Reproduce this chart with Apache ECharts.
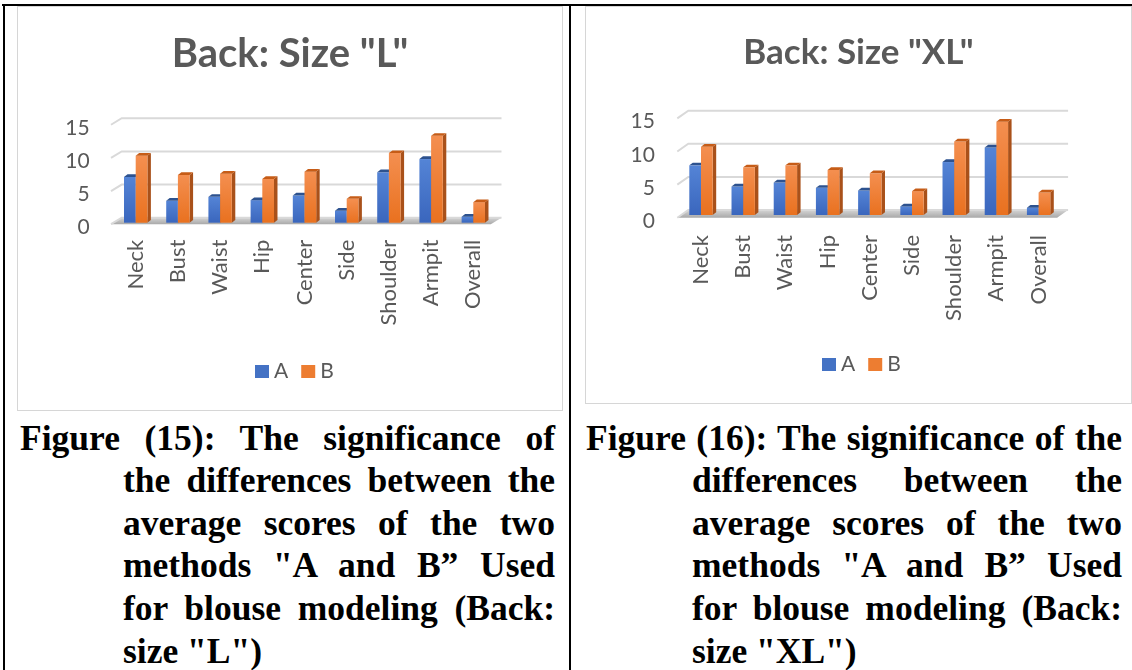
<!DOCTYPE html>
<html>
<head>
<meta charset="utf-8">
<script src="https://cdn.jsdelivr.net/npm/echarts@6/dist/echarts.min.js"></script>
<style>
  html, body { margin: 0; padding: 0; background: #fff; }
  #page { position: relative; width: 1132px; height: 670px; overflow: hidden; background: #fff; }
  .rule { position: absolute; background: #000; }
  .frame { position: absolute; border: 1px solid #d6d6d6; box-sizing: border-box; background: #fff; }
  .chart { position: absolute; }
  .cap { position: absolute; font-family: "Liberation Serif", "Times New Roman", serif; font-weight: bold;
         font-size: 35.5px; line-height: 42.6px; color: #000; }
  .cap div { position: absolute; text-align: justify; text-align-last: justify; }
  .cap div.last { text-align: left; text-align-last: left; }
</style>
</head>
<body>
<div id="page">
  <div class="rule" style="left:2px;top:4px;width:1130px;height:2px;"></div>
  <div class="rule" style="left:3px;top:4px;width:2px;height:666px;"></div>
  <div class="rule" style="left:569px;top:4px;width:2px;height:666px;"></div>

  <div class="frame" style="left:17px;top:6px;width:546px;height:405px;"></div>
  <div class="frame" style="left:585px;top:6px;width:547px;height:398px;"></div>
  <div id="chartL" class="chart" style="left:17px;top:6px;width:546px;height:405px;"></div>
  <div id="chartXL" class="chart" style="left:585px;top:6px;width:547px;height:398px;"></div>

  <div class="cap" style="left:20px;top:416.5px;">
    <div style="left:0;top:0;width:535px;">Figure (15): The significance of</div>
    <div style="left:103px;top:42.6px;width:432px;">the differences between the</div>
    <div style="left:103px;top:85.2px;width:432px;">average scores of the two</div>
    <div style="left:103px;top:127.8px;width:432px;">methods "A and B” Used</div>
    <div style="left:103px;top:170.4px;width:432px;">for blouse modeling (Back:</div>
    <div class="last" style="left:103px;top:213px;width:432px;">size "L")</div>
  </div>
  <div class="cap" style="left:586px;top:416.5px;">
    <div style="left:0;top:0;width:536px;">Figure (16): The significance of the</div>
    <div style="left:106px;top:42.6px;width:430px;">differences between the</div>
    <div style="left:106px;top:85.2px;width:430px;">average scores of the two</div>
    <div style="left:106px;top:127.8px;width:430px;">methods "A and B” Used</div>
    <div style="left:106px;top:170.4px;width:430px;">for blouse modeling (Back:</div>
    <div class="last" style="left:106px;top:213px;width:430px;">size "XL")</div>
  </div>
</div>

<script>
// Measured parts of the back of the blouse
const categories = ['Neck', 'Bust', 'Waist', 'Hip', 'Center', 'Side', 'Shoulder', 'Armpit', 'Overall'];

// Average scores, size "L"
const sizeL_A = [6.9, 3.3, 3.9, 3.4, 4.1, 1.8, 7.6, 9.6, 0.9];
const sizeL_B = [10.1, 7.2, 7.4, 6.6, 7.7, 3.6, 10.5, 13.1, 3.1];

// Average scores, size "XL"
const sizeXL_A = [7.5, 4.3, 4.9, 4.1, 3.7, 1.3, 8.0, 10.2, 1.1];
const sizeXL_B = [10.3, 7.2, 7.5, 6.8, 6.3, 3.6, 11.1, 14.1, 3.4];

// Value axis ticks
const valueTicks = [0, 5, 10, 15];
const methodNames = ['A', 'B'];

const TEXT = '#595959';
const FONT = 'Lato, "Open Sans", sans-serif';

const palettes = {
  A: { top: '#5484d6', bottom: '#3a66bd', cap: '#2d528f', side: '#2a4a85', flat: '#4472C4' },
  B: { top: '#f48f50', bottom: '#e9711f', cap: '#c65c17', side: '#a9511a', flat: '#ED7D31' }
};

// Pseudo-3D column: front face, top face and right side face
function columnRenderer(slot, pal, depth) {
  return function (params, api) {
    const idx = api.value(0);
    const v = api.value(1);
    const base = api.coord([idx, 0]);
    const top = api.coord([idx, v]);
    const band = api.size([1, 0])[0];
    const w = band * 0.277;
    const x0 = slot === 0 ? base[0] - w : base[0];
    const x1 = x0 + w;
    const yb = base[1], yt = top[1];
    const dx = depth.dx, dy = depth.dy;
    return {
      type: 'group',
      children: [
        {
          type: 'polygon',
          shape: { points: [[x1, yt], [x1 + dx, yt + dy], [x1 + dx, yb + dy], [x1, yb]] },
          style: { fill: pal.side }
        },
        {
          type: 'rect',
          shape: { x: x0, y: yt, width: w, height: yb - yt },
          style: {
            fill: new echarts.graphic.LinearGradient(0, 0, 0, 1, [
              { offset: 0, color: pal.top }, { offset: 1, color: pal.bottom }
            ])
          }
        },
        {
          type: 'polygon',
          shape: { points: [[x0, yt], [x1, yt], [x1 + dx, yt + dy], [x0 + dx, yt + dy]] },
          style: { fill: pal.cap }
        }
      ]
    };
  };
}

// Back-wall gridlines with their slanted side-wall part, plus the floor
function wallRenderer(persp) {
  return function (params, api) {
    const v = api.value(1);
    const cs = params.coordSys;
    const y = api.coord([0, v])[1];
    const fx = cs.x + persp.frontX, bx = cs.x + persp.backX;
    const ex = bx + cs.width;
    const yf = y + persp.frontY, yk = y + persp.backY;
    const children = [];
    if (v === 0) {
      children.push({
        type: 'polygon',
        shape: { points: [[fx, yf], [ex - (bx - fx), yf], [ex, yk], [bx, yk]] },
        style: {
          fill: new echarts.graphic.LinearGradient(0, 0, 0, 1, [
            { offset: 0, color: '#d4d4d4' }, { offset: 1, color: '#a9a9a9' }
          ])
        }
      });
    }
    children.push({
      type: 'polyline',
      shape: { points: [[fx, yf], [bx, yk], [ex, yk]] },
      style: { stroke: '#d9d9d9', lineWidth: 2, fill: null }
    });
    return { type: 'group', children: children };
  };
}

function buildOption(cfg) {
  const depth = { dx: 3.5, dy: -2.7 };
  const rows = (arr) => arr.map((v, i) => [i, v]);
  return {
    animation: false,
    title: {
      text: cfg.title,
      left: 'center',
      top: cfg.titleTop,
      textStyle: { fontFamily: FONT, fontWeight: 'bold', fontSize: cfg.titleSize, color: TEXT }
    },
    legend: {
      data: methodNames,
      left: cfg.legendLeft,
      top: cfg.legendTop,
      icon: 'rect',
      itemWidth: 14,
      itemHeight: 13,
      itemGap: 13,
      textStyle: { fontFamily: FONT, fontSize: 21, color: TEXT }
    },
    grid: cfg.grid,
    xAxis: {
      type: 'category',
      data: categories,
      axisLine: { show: false },
      axisTick: { show: false },
      axisLabel: {
        interval: 0, rotate: 90, margin: cfg.catMargin,
        fontFamily: FONT, fontSize: 22, color: TEXT
      }
    },
    yAxis: {
      type: 'value',
      min: 0, max: 15, interval: 5,
      axisLine: { show: false },
      axisTick: { show: false },
      splitLine: { show: false },
      axisLabel: {
        margin: cfg.valMargin,
        verticalAlign: 'top', lineHeight: cfg.valShift * 2,
        fontFamily: FONT, fontSize: 21, color: TEXT
      }
    },
    series: [
      {
        type: 'custom', name: 'walls', z: 1, silent: true,
        renderItem: wallRenderer(cfg.persp),
        data: valueTicks.map(t => [0, t])
      },
      {
        type: 'custom', name: 'A', z: 2,
        itemStyle: { color: palettes.A.flat },
        renderItem: columnRenderer(0, palettes.A, depth),
        encode: { x: 0, y: 1 },
        data: rows(cfg.a)
      },
      {
        type: 'custom', name: 'B', z: 3,
        itemStyle: { color: palettes.B.flat },
        renderItem: columnRenderer(1, palettes.B, depth),
        encode: { x: 0, y: 1 },
        data: rows(cfg.b)
      }
    ]
  };
}

const chartL = echarts.init(document.getElementById('chartL'), null, { renderer: 'canvas' });
chartL.setOption(buildOption({
  title: 'Back: Size "L"',
  titleSize: 40,
  titleTop: 23,
  legendLeft: 233,
  legendTop: 350,
  grid: { left: 97.6, top: 117.25, width: 379.8, height: 99.45 },
  catMargin: 17,
  valMargin: 25,
  valShift: 5,
  persp: { frontX: -3.6, frontY: 1.5, backX: 7.1, backY: -5 },
  a: sizeL_A,
  b: sizeL_B
}));

const chartXL = echarts.init(document.getElementById('chartXL'), null, { renderer: 'canvas' });
chartXL.setOption(buildOption({
  title: 'Back: Size "XL"',
  titleSize: 35,
  titleTop: 24.5,
  legendLeft: 232,
  legendTop: 343,
  grid: { left: 94.9, top: 109.7, width: 379.8, height: 99.3 },
  catMargin: 20,
  valMargin: 25,
  valShift: 6,
  persp: { frontX: -2.6, frontY: 2.7, backX: 8.4, backY: -5 },
  a: sizeXL_A,
  b: sizeXL_B
}));
</script>
</body>
</html>
